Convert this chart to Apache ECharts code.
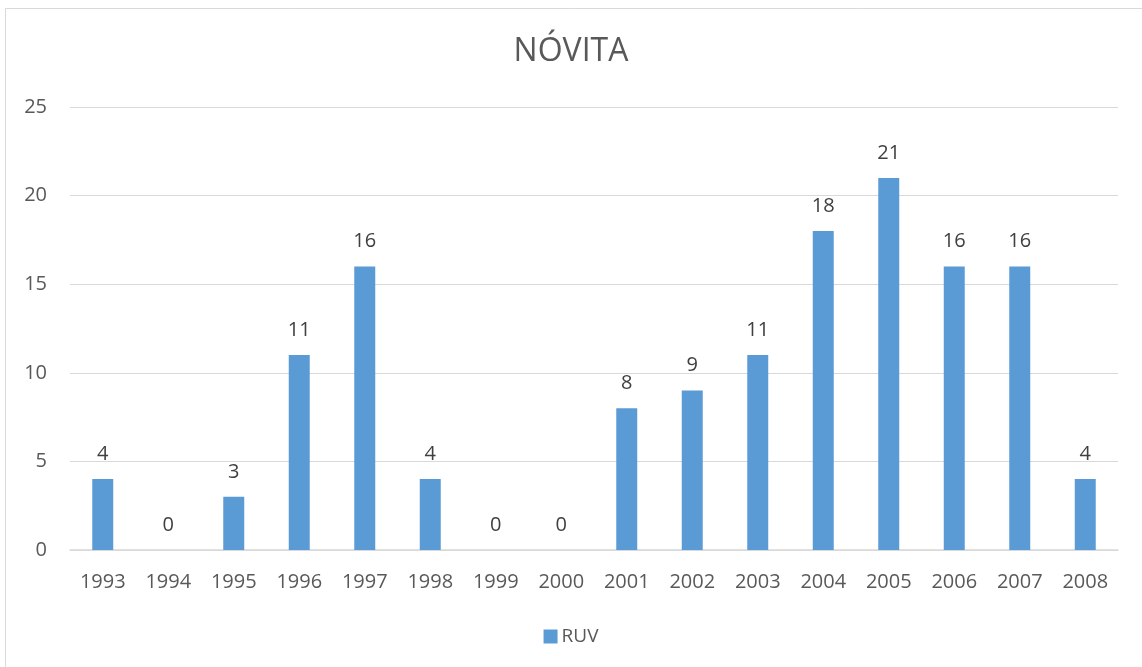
<!DOCTYPE html>
<html><head><meta charset="utf-8">
<script src="https://cdn.jsdelivr.net/npm/echarts@6/dist/echarts.min.js"></script>
<style>html,body{margin:0;padding:0;background:#fff}#c{width:1142px;height:667px}</style>
</head><body><div id="c"></div>
<script>
const categories = ['1993','1994','1995','1996','1997','1998','1999','2000','2001','2002','2003','2004','2005','2006','2007','2008'];
const ruvValues = [4,0,3,11,16,4,0,0,8,9,11,18,21,16,16,4];
const seriesName = 'RUV';
const titleText = 'NÓVITA';
const font = '"Open Sans", "Liberation Sans", sans-serif';
const chart = echarts.init(document.getElementById('c'));
chart.setOption({
  animation:false,
  backgroundColor:'#fff',
  graphic:[{type:'rect',shape:{x:5.5,y:8.5,width:1200,height:700},style:{fill:'none',stroke:'#d9d9d9',lineWidth:1},silent:true}],
  title:{text:titleText,left:'center',top:31,textStyle:{fontFamily:font,fontSize:32,fontWeight:'normal',color:'#595959'}},
  legend:{top:622,left:'center',itemWidth:14,itemHeight:14,itemGap:4,icon:'rect',data:[seriesName],textStyle:{fontFamily:font,fontSize:19,color:'#595959',padding:[0,0,0,-1]}},
  grid:{left:70,right:24,top:107,bottom:117,containLabel:false},
  xAxis:{type:'category',data:categories,axisTick:{show:false},axisLine:{lineStyle:{color:'#d9d9d9',width:1.5}},
    axisLabel:{fontFamily:font,fontSize:20,color:'#595959',margin:22}},
  yAxis:{type:'value',min:0,max:25,interval:5,axisLine:{show:false},axisTick:{show:false},
    splitLine:{lineStyle:{color:'#d9d9d9',width:1.2}},
    axisLabel:{fontFamily:font,fontSize:20,color:'#595959',margin:23,align:'right'}},
  series:[{name:seriesName,type:'bar',data:ruvValues,barWidth:21,itemStyle:{color:'#5b9bd5'},
    label:{show:true,position:'top',distance:15,fontFamily:font,fontSize:20,color:'#404040'}}]
});
</script></body></html>
